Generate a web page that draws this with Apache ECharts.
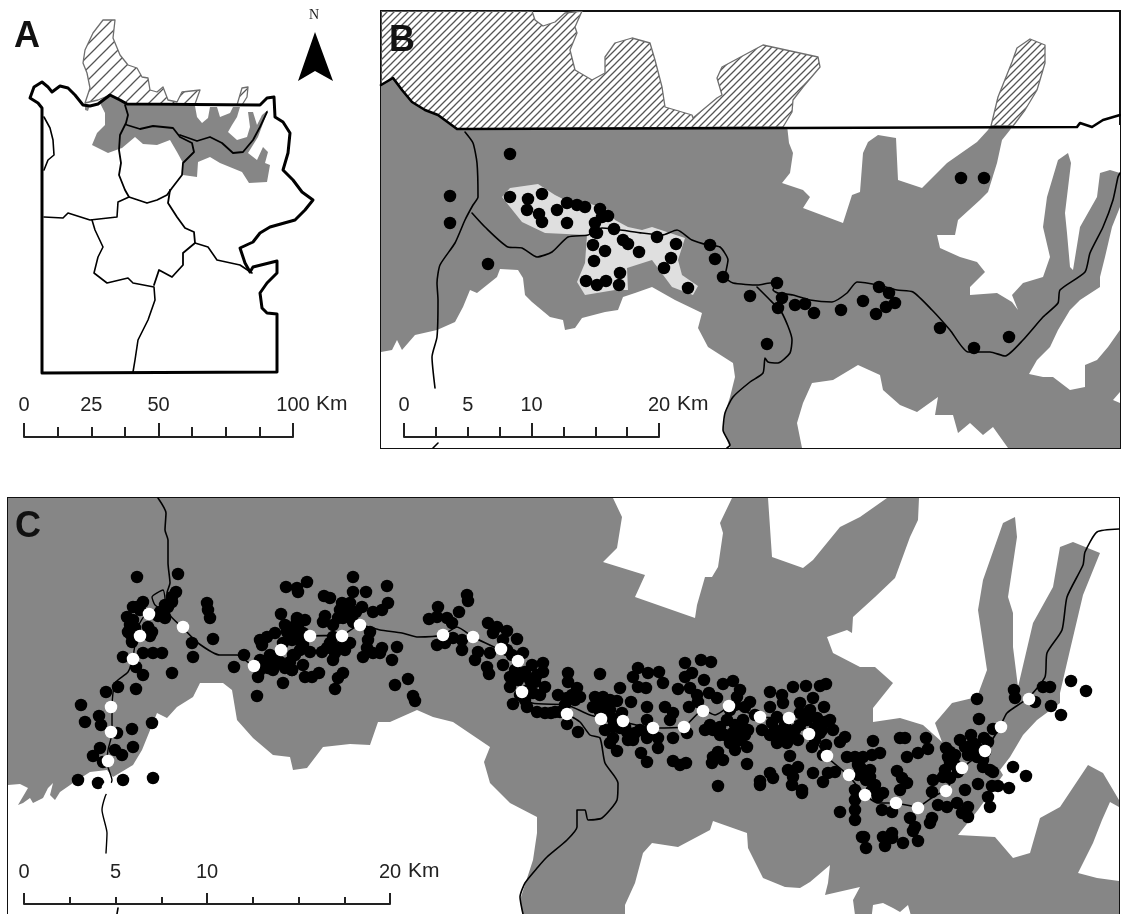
<!DOCTYPE html>
<html><head><meta charset="utf-8">
<style>html,body{margin:0;padding:0;background:#fff}#c{width:1121px;height:914px}</style>
<script src="https://cdn.jsdelivr.net/npm/echarts@6/dist/echarts.min.js"></script>
</head><body><div id="c"></div>
<script>
// ---- Panel A map data (map units) ----
const aOutline=[[42,373],[42,108],[38,103],[30,98],[34,87],[42,82],[48,87],[52,92],[60,86],[68,88],[75,95],[83,105],[90,106],[98,104],[110,95],[120,100],[127,104],[260,105],[267,98],[274,97],[275,117],[283,122],[290,133],[288,153],[283,170],[293,180],[302,192],[313,200],[305,210],[295,220],[270,227],[260,233],[253,242],[240,248],[245,263],[250,272],[253,267],[277,261],[277,273],[267,283],[260,293],[262,308],[267,313],[277,314],[277,372],[42,373]];
const aWest=[[44,117],[50,128],[53,140],[54,155],[48,160],[44,170]];
const aCentral=[[125,105],[128,115],[126,123],[120,135],[119,150],[121,163],[119,175],[125,190],[129,197],[147,203],[157,200],[167,195],[172,188],[182,175],[183,163],[194,152],[192,143],[180,137],[173,128],[153,126],[140,129],[127,125]];
const aRiver=[[180,135],[197,141],[210,137],[222,143],[233,153],[243,152],[253,140],[260,127],[267,112]];
const aEast=[[170,190],[168,203],[177,217],[185,228],[194,232],[195,243],[183,253],[183,265],[172,277],[159,270],[154,285]];
const aMid=[[129,197],[118,202],[117,217],[90,220],[68,213],[63,218],[44,217]];
const aSouth=[[92,220],[95,230],[103,247],[98,257],[94,273],[107,283],[128,278],[133,283],[154,287],[155,300],[148,320],[138,340],[135,360],[133,372]];
const aSE=[[195,243],[208,247],[217,260],[240,265],[252,273]];
const aGrey=[[100,103],[110,95],[127,105],[195,106],[197,117],[202,123],[208,118],[210,107],[217,107],[220,117],[230,113],[233,107],[240,107],[237,117],[232,125],[228,132],[237,140],[247,137],[250,127],[248,112],[253,112],[257,125],[262,115],[268,110],[258,137],[248,153],[257,160],[263,147],[268,152],[265,163],[270,165],[267,182],[249,183],[242,172],[220,163],[210,157],[198,162],[197,177],[183,175],[183,163],[177,152],[170,140],[157,145],[143,144],[135,137],[122,148],[119,149],[108,153],[92,145],[97,133],[105,125],[105,113]];
const aGreyBit=[[85,105],[90,105],[88,111],[85,110]];
const aHatch=[[85,103],[90,88],[87,73],[83,63],[85,50],[93,33],[103,20],[115,20],[113,38],[120,55],[128,65],[137,68],[142,77],[148,78],[150,90],[157,92],[163,87],[168,100],[177,102],[182,92],[200,90],[195,104],[127,104],[110,95],[98,100]];
const aHatchLobe=[[237,105],[242,88],[248,87],[247,97],[242,105]];
const northArrow=[[315,32],[298,81],[315,71],[333,81]];
// ---- Panel B map data ----
const bGrey=[[381,85],[393,78],[402,90],[412,102],[425,110],[438,115],[457,129],[1120,127],[1120,448],[381,448]];
const bWhiteNorth=[[787,125],[789,143],[793,153],[790,173],[782,183],[803,190],[810,197],[803,208],[843,223],[852,195],[860,192],[863,153],[868,142],[878,135],[896,138],[898,180],[922,188],[947,163],[977,142],[988,130],[991,125],[1013,125],[1010,130],[1002,140],[997,163],[988,192],[980,200],[958,220],[955,235],[937,235],[940,248],[960,257],[977,262],[985,272],[970,287],[970,295],[997,293],[1012,302],[1018,310],[1012,295],[1023,283],[1043,277],[1050,257],[1043,227],[1047,197],[1058,160],[1068,153],[1071,163],[1065,213],[1067,233],[1070,267],[1073,270],[1080,227],[1097,197],[1100,173],[1110,170],[1120,173],[1120,125]];
const bWhiteEast=[[1120,207],[1112,227],[1105,257],[1100,277],[1100,287],[1080,300],[1070,310],[1058,330],[1050,347],[1037,360],[1029,374],[1043,377],[1053,377],[1070,390],[1085,387],[1085,365],[1097,360],[1108,347],[1120,330]];
const bWhiteCorner=[[1113,400],[1120,392],[1120,403]];
const bWhiteSouth=[[802,448],[797,423],[803,403],[812,383],[833,380],[858,365],[880,375],[883,390],[900,405],[917,412],[938,397],[935,415],[953,415],[958,433],[970,423],[983,435],[993,427],[1008,448]];
const bWhiteWest=[[381,352],[392,350],[397,340],[402,350],[415,335],[437,330],[455,322],[463,307],[470,290],[477,293],[497,277],[500,269],[518,270],[523,278],[525,295],[532,302],[550,317],[563,320],[565,330],[575,328],[582,318],[605,312],[618,310],[623,297],[635,293],[652,287],[675,300],[702,313],[698,328],[708,347],[733,363],[735,377],[730,397],[725,413],[723,430],[730,448],[381,448]];
const bLight=[[502,197],[510,188],[538,184],[555,195],[565,200],[588,203],[608,210],[615,220],[628,227],[642,230],[652,227],[670,233],[685,238],[678,260],[682,275],[698,286],[693,295],[672,287],[652,260],[627,268],[628,290],[615,290],[585,295],[577,282],[585,263],[587,235],[545,233],[522,222]];
const bHatch=[[381,11],[532,11],[535,20],[543,26],[555,22],[565,13],[582,11],[575,27],[577,33],[570,50],[575,70],[592,80],[605,73],[605,57],[615,43],[632,38],[650,43],[655,60],[662,87],[665,107],[692,115],[693,118],[717,98],[722,95],[717,78],[722,67],[763,45],[818,57],[820,67],[803,87],[793,100],[792,112],[783,127],[457,129],[438,115],[425,110],[412,102],[402,90],[393,78],[381,85]];
const bHatchLobe=[[991,126],[998,97],[1012,62],[1017,48],[1030,39],[1045,45],[1045,63],[1037,90],[1025,110],[1013,126]];
const bBorder=[[381,85],[393,78],[402,90],[412,102],[425,110],[438,115],[457,129],[787,128],[1077,127],[1080,123],[1092,127],[1103,120],[1120,115]];
const bRiverNorth=[[465,132],[473,143],[477,163],[478,197],[473,205],[465,220],[455,243],[440,265],[437,283],[438,300],[437,337],[432,357],[435,388]];
const bRiverMain=[[472,213],[485,227],[508,247],[522,248],[537,257],[552,252],[568,237],[588,235],[602,228],[642,233],[662,235],[677,230],[692,240],[708,245],[720,247],[728,260],[725,277],[733,283],[758,285],[770,283],[777,283],[773,290],[778,293],[793,295],[810,300],[832,302],[847,293],[857,282],[878,285],[897,290],[913,292],[932,310],[950,330],[968,352],[990,352],[1005,356],[1023,340],[1043,317],[1058,303],[1060,290],[1085,272],[1090,253],[1103,227],[1113,200],[1118,177],[1120,173]];
const bRiverSouth=[[757,287],[770,300],[782,313],[792,340],[790,353],[778,363],[768,362],[765,358],[763,373],[750,382],[733,397],[725,413],[723,430],[730,445],[727,448]];
const bRiverStub=[[433,448],[438,443]];
const bDots=[[510,154],[450,196],[450,223],[488,264],[510,197],[528,199],[542,194],[527,210],[539,214],[542,222],[557,210],[567,203],[577,205],[585,207],[567,223],[600,209],[608,216],[602,217],[595,223],[595,232],[597,233],[614,229],[623,240],[628,244],[593,245],[605,251],[594,261],[639,252],[657,237],[676,244],[671,258],[664,268],[688,288],[620,273],[619,285],[606,281],[597,285],[586,281],[710,245],[715,259],[723,277],[750,296],[777,283],[782,298],[778,308],[795,305],[805,304],[814,313],[841,310],[863,301],[879,287],[889,293],[895,303],[886,307],[876,314],[940,328],[974,348],[1009,337],[961,178],[984,178],[767,344]];
// ---- Panel C map data ----
const cGrey=[[8,498],[1119,498],[1119,930],[8,930]];
const cWhiteWest=[[8,785],[20,784],[28,788],[18,805],[23,803],[30,798],[33,803],[43,798],[48,788],[53,783],[50,795],[55,800],[60,792],[73,783],[90,772],[107,770],[113,777],[133,765],[142,750],[157,713],[167,718],[177,707],[193,697],[200,683],[223,683],[232,690],[237,720],[253,738],[273,755],[290,757],[293,770],[307,768],[323,747],[350,744],[370,745],[378,722],[390,722],[417,710],[433,717],[453,722],[490,747],[484,762],[490,783],[510,803],[537,817],[537,833],[533,860],[520,900],[525,930],[8,930]];
const cWhiteNorthA=[[613,498],[622,517],[617,548],[603,562],[645,575],[635,597],[695,618],[697,605],[705,577],[712,577],[718,567],[723,533],[720,523],[732,498]];
const cWhiteNorthB=[[768,498],[772,557],[803,568],[813,560],[840,527],[860,517],[887,498]];
const cWhiteEast=[[919,498],[918,520],[910,537],[895,578],[875,597],[853,617],[852,633],[847,630],[827,637],[833,653],[860,667],[875,667],[893,683],[873,708],[873,722],[900,718],[923,725],[942,742],[935,723],[952,703],[977,697],[987,670],[978,610],[983,580],[1003,523],[1015,517],[1017,537],[1008,597],[1013,613],[1013,647],[1018,687],[1033,623],[1053,587],[1060,547],[1073,542],[1100,553],[1083,595],[1070,650],[1060,693],[1060,703],[1037,720],[1023,735],[1010,757],[1000,770],[1003,775],[978,810],[958,835],[995,837],[1013,858],[1030,853],[1040,818],[1060,807],[1088,765],[1103,773],[1119,800],[1119,498]];
const cWhiteCorner=[[1119,807],[1110,802],[1102,820],[1093,843],[1078,873],[1097,878],[1119,881]];
const cWhiteSouth=[[625,930],[625,905],[635,883],[643,853],[652,843],[678,847],[710,830],[713,821],[747,833],[748,848],[763,878],[785,887],[800,888],[810,882],[830,865],[828,883],[825,895],[860,887],[853,900],[857,930]];
const cWhiteSouthB=[[870,930],[873,905],[883,903],[893,908],[900,912],[908,905],[915,930]];
const cRiverMain=[[158,498],[166,513],[165,530],[168,540],[168,563],[170,583],[167,593],[170,615],[183,628],[198,643],[220,655],[237,655],[253,665],[280,648],[290,640],[310,636],[342,635],[360,625],[380,630],[402,633],[417,637],[443,635],[457,627],[473,637],[500,650],[518,662],[522,692],[532,703],[567,705],[590,715],[623,722],[653,728],[683,727],[703,710],[715,715],[730,707],[760,717],[788,718],[810,733],[827,757],[848,775],[865,795],[878,803],[895,803],[917,807],[933,797],[945,790],[962,768],[985,750],[1000,727],[1007,713],[1028,698],[1045,677],[1047,653],[1062,630],[1067,597],[1083,565],[1085,552],[1097,532],[1119,529]];
const cRiverBranch=[[567,714],[580,722],[590,735],[600,738],[605,763],[618,783],[617,800],[602,818],[588,820],[585,810],[577,810],[577,827],[567,840],[547,857],[538,867],[525,883],[520,897],[523,914]];
const cRiverWest=[[170,615],[155,605],[152,597],[163,590],[166,610],[147,613],[138,627],[133,657],[128,672],[115,683],[112,707],[112,733],[108,750],[107,763],[112,780],[105,797],[102,810],[107,833],[106,853]];
const cRiverStub=[[118,908],[117,914]];
const cBlackDots=[[137,577],[178,574],[176,592],[172,602],[168,607],[163,615],[143,602],[137,607],[127,617],[128,632],[132,642],[133,620],[152,632],[207,603],[208,610],[210,618],[213,639],[192,643],[193,657],[172,673],[143,675],[136,667],[123,657],[143,653],[153,653],[162,653],[118,687],[136,689],[106,692],[81,705],[85,722],[99,716],[101,725],[132,729],[117,733],[152,723],[133,747],[100,748],[93,756],[103,762],[115,750],[122,755],[78,780],[98,783],[123,780],[153,778],
[133,607],[140,610],[130,625],[135,628],[131,635],[148,627],[150,636],[160,612],[165,605],[172,597],[165,618],[158,616],
[286,587],[297,588],[281,614],[244,655],[234,667],[258,677],[257,696],[283,683],[260,640],[267,637],[275,633],[262,645],[293,627],[297,618],[260,660],[273,663],[273,670],[267,660],[293,655],[292,670],[283,643],
[270,655],[275,658],[280,662],[285,668],[268,668],[290,662],[300,640],[303,645],[260,670],[287,632],[292,640],[285,625],
[307,582],[298,592],[353,577],[353,592],[366,592],[387,586],[324,596],[330,598],[342,603],[350,603],[340,610],[348,612],[362,607],[373,612],[382,610],[388,603],[325,616],[323,622],[333,625],[343,618],[353,622],[297,620],[305,620],[298,627],[303,633],[295,633],[370,632],[368,640],[367,648],[363,657],[373,653],[382,648],[397,647],[392,660],[380,653],[333,637],[330,643],[335,653],[350,643],[322,652],[310,652],[295,655],[303,665],[292,670],[305,677],[312,677],[319,673],[343,673],[338,678],[335,689],[395,685],[408,679],[413,696],[415,701],
[345,605],[345,615],[338,618],[350,616],[356,612],[300,650],[340,647],[345,650],[327,648],[333,660],
[438,607],[429,619],[437,617],[447,618],[452,623],[459,612],[467,595],[468,601],[437,645],[445,643],[453,638],[462,640],[462,650],[475,660],[478,652],[488,623],[497,627],[507,631],[493,633],[517,639],[503,640],[487,667],[489,674],[490,653],[503,665],[510,677],[510,687],[523,653],[532,665],[543,663],[543,672],[535,682],[545,687],[533,693],[513,704],[527,707],[537,712],[545,713],[555,712],[568,673],[568,682],[558,695],[577,688],[580,697],[567,698],[567,724],[578,732],
[507,650],[512,655],[515,670],[518,680],[525,672],[530,680],[528,690],[537,675],[540,695],[525,700],[520,695],[551,713],[560,712],[565,705],[572,695],[575,700],
[600,674],[620,688],[638,668],[633,677],[648,673],[659,672],[663,683],[638,687],[646,688],[685,663],[701,660],[711,662],[692,673],[685,677],[704,680],[678,689],[690,688],[697,695],[709,693],[723,684],[733,681],[740,690],[737,697],[750,702],[595,697],[603,697],[617,701],[631,702],[593,707],[603,707],[622,713],[647,707],[665,707],[673,713],[647,720],[670,720],[689,707],[698,702],[717,698],[745,707],[743,720],[613,727],[627,732],[635,733],[613,738],[610,743],[617,751],[628,740],[633,740],[647,738],[658,738],[658,748],[641,753],[647,762],[673,738],[687,733],[705,730],[713,730],[720,727],[727,720],[733,733],[743,728],[730,743],[740,740],[747,747],[747,764],[718,752],[713,757],[723,760],[712,763],[718,786],[673,761],[680,765],[686,763],
[730,710],[735,705],[725,735],[735,725],[745,735],[720,735],[710,725],[755,715],[735,750],[598,702],[610,700],[600,712],[610,710],[612,718],[615,722],[620,728],[605,730],[640,730],[650,730],[625,727],
[770,692],[793,687],[806,686],[820,686],[826,684],[782,695],[783,703],[770,707],[813,698],[800,703],[824,707],[777,717],[748,730],[762,730],[772,723],[782,733],[777,743],[787,743],[800,713],[807,720],[817,718],[825,722],[833,730],[845,737],[840,742],[798,740],[820,733],[812,747],[823,755],[790,756],[798,767],[788,770],[793,777],[792,785],[802,790],[802,793],[813,773],[770,773],[773,778],[760,781],[760,785],[823,782],[828,773],[835,772],[847,757],[855,757],[840,812],[855,790],[855,800],[855,810],[855,820],[862,837],
[775,730],[785,725],[790,735],[795,730],[780,740],[770,735],[800,725],[810,710],[815,728],[822,730],[830,720],[826,745],[815,740],
[873,741],[900,738],[905,738],[926,738],[928,749],[918,753],[907,757],[880,753],[872,755],[863,757],[860,767],[870,770],[870,777],[875,785],[883,793],[878,797],[897,771],[902,778],[907,783],[900,790],[882,810],[892,812],[910,818],[915,827],[913,831],[918,841],[903,843],[892,833],[892,838],[883,837],[885,846],[864,837],[866,848],[932,818],[930,823],[932,792],[933,780],[965,790],[978,784],[992,786],[998,786],[1009,788],[1013,767],[1026,776],[988,797],[990,807],[938,805],[947,807],[957,803],[968,807],[962,813],[968,817],[946,748],[950,752],[953,757],[950,763],[945,770],[943,777],[950,778],[960,740],[965,747],[971,735],[973,743],[968,755],[977,757],[984,738],[988,742],[993,729],[983,767],[993,772],[977,699],[979,719],[1014,690],[1015,698],[1035,702],[1043,687],[1050,687],[1051,706],[1061,715],[1071,681],[1086,691],
[858,775],[862,770],[866,780],[872,790],[858,765],[955,765],[948,757],[958,772],[955,755],[975,745],[980,750],[970,752],[985,752],[983,760],[990,770]];
const cWhiteDots=[[149,614],[140,636],[133,659],[111,707],[111,732],[108,761],[108,788],[183,627],[254,666],[281,650],[310,636],[342,636],[360,625],[443,635],[473,637],[501,649],[518,661],[522,692],[567,714],[601,719],[623,721],[653,728],[684,727],[703,711],[729,706],[760,717],[789,718],[809,734],[827,756],[849,775],[865,795],[896,803],[918,808],[946,791],[962,768],[985,751],[1001,727],[1029,699]];
// ---- Scale bars ----
const scaleALabels=[0,25,50,100];
const scaleBLabels=[0,5,10,20];
const scaleCLabels=[0,5,10,20];

const FONT='"Liberation Sans",Arial,sans-serif';
const GREY='#868686', LIGHT='#dfdfdf', HATCHLINE='#6e6e6e';
function hatchTile(d,w,col){
  const c=document.createElement('canvas');c.width=d;c.height=d;
  const g=c.getContext('2d');g.strokeStyle=col;g.lineWidth=w;
  g.beginPath();
  g.moveTo(-d,2*d);g.lineTo(2*d,-d);
  g.moveTo(-d,d);g.lineTo(d,-d);
  g.moveTo(0,2*d);g.lineTo(2*d,0);
  g.stroke();return c;
}
const hatchA={image:hatchTile(12,1.3,'#555'),repeat:'repeat'};
const hatchB={image:hatchTile(7,1.3,'#555'),repeat:'repeat'};
let zc=1;
function poly(ax,pts,fill,stroke,sw){
  return {type:'custom',xAxisIndex:ax,yAxisIndex:ax,coordinateSystem:'cartesian2d',clip:true,silent:true,z:zc++,
    data:pts,encode:{x:0,y:1},
    renderItem:function(p,api){
      if(p.dataIndex!==0) return null;
      return {type:'polygon',shape:{points:pts.map(q=>api.coord(q))},
        style:{fill:fill,stroke:stroke||null,lineWidth:sw||0,lineJoin:'round'}};
    }};
}
function path(ax,pts,w,smooth){
  return {type:'line',xAxisIndex:ax,yAxisIndex:ax,data:pts,symbol:'none',silent:true,z:zc++,clip:true,smooth:smooth||false,
    lineStyle:{color:'#000',width:w,join:'round',cap:'round'},itemStyle:{color:'#000'}};
}
function dots(ax,pts,color,size){
  return {type:'scatter',xAxisIndex:ax,yAxisIndex:ax,data:pts,symbol:'circle',symbolSize:size,silent:true,z:zc++,
    clip:true,large:false,itemStyle:{color:color,opacity:1}};
}
const series=[
 // A
 poly(0,aGrey,GREY),poly(0,aGreyBit,GREY),
 poly(0,aHatch,hatchA,HATCHLINE,1.3),poly(0,aHatchLobe,hatchA,HATCHLINE,1.3),
 path(0,aWest,1.6),path(0,aCentral,1.8),path(0,aRiver,1.8),path(0,aEast,1.8),path(0,aMid,1.6),path(0,aSouth,1.6),path(0,aSE,1.6),
 path(0,aOutline,3),
 poly(0,northArrow,'#000'),
 // B
 poly(1,bGrey,GREY),poly(1,bWhiteNorth,'#fff'),poly(1,bWhiteEast,'#fff'),poly(1,bWhiteCorner,'#fff'),poly(1,bWhiteSouth,'#fff'),poly(1,bWhiteWest,'#fff'),
 poly(1,bLight,LIGHT),
 poly(1,bHatch,hatchB,HATCHLINE,1.3),poly(1,bHatchLobe,hatchB,HATCHLINE,1.3),
 path(1,bRiverNorth,1.6,0.2),path(1,bRiverMain,1.6,0.2),path(1,bRiverSouth,1.6,0.2),path(1,bRiverStub,1.6),
 path(1,bBorder,2.6),
 dots(1,bDots,'#000',12.5),
 // C
 poly(2,cGrey,GREY),poly(2,cWhiteWest,'#fff'),poly(2,cWhiteNorthA,'#fff'),poly(2,cWhiteNorthB,'#fff'),poly(2,cWhiteEast,'#fff'),poly(2,cWhiteCorner,'#fff'),poly(2,cWhiteSouth,'#fff'),poly(2,cWhiteSouthB,'#fff'),
 path(2,cRiverMain,1.6,0.2),path(2,cRiverBranch,1.6,0.2),path(2,cRiverWest,1.4,0.2),path(2,cRiverStub,1.6),
 dots(2,cBlackDots,'#000',12.5),
 dots(2,cWhiteDots,'#fff',12.5)
];
function mapAxes(x0,x1,y0,y1,i){
  return {x:{type:'value',gridIndex:i,min:x0,max:x1,show:false},y:{type:'value',gridIndex:i,min:y0,max:y1,inverse:true,show:false}};
}
function scaleAxes(i,max,major,labels,tickMaj,tickMin,margin){
  return {x:{type:'value',gridIndex:i,min:0,max:max,interval:major,z:80,
      axisLine:{show:true,onZero:false,lineStyle:{color:'#222',width:2}},
      axisTick:{show:true,inside:true,length:tickMaj,lineStyle:{color:'#222',width:2}},
      minorTick:{show:true,splitNumber:4,length:tickMin,lineStyle:{color:'#222',width:2}},
      splitLine:{show:false},minorSplitLine:{show:false},
      axisLabel:{show:true,inside:true,margin:margin,customValues:labels,color:'#222',fontSize:20,fontFamily:FONT,hideOverlap:false}},
    y:{type:'value',gridIndex:i,min:0,max:1,show:false}};
}
const M=[mapAxes(0,370,0,450,0),mapAxes(381,1120,11,448,1),mapAxes(8,1119,498,930,2),
  scaleAxes(3,100,50,scaleALabels,14,10,22),
  scaleAxes(4,20,10,scaleBLabels,14,10,22),
  scaleAxes(5,20,10,scaleCLabels,11,7,22)];
const letter=(t,x,y)=>({type:'text',left:x,top:y,z:100,style:{text:t,font:'bold 36px '+FONT,fill:'#111'}});
const kmLabel=(x,y)=>({type:'text',left:x,top:y,z:100,style:{text:'Km',font:'21px '+FONT,fill:'#222'}});
const OB={outerBoundsMode:'none'};
const option={
 animation:false,backgroundColor:'#fff',
 grid:[
  {...OB,left:0,top:0,width:370,height:450},
  {...OB,left:381,top:11,width:739,height:437,show:true,borderColor:'#111',borderWidth:2,backgroundColor:'#fff'},
  {...OB,left:8,top:498,width:1111,height:432,show:true,borderColor:'#111',borderWidth:2,backgroundColor:'#fff'},
  {...OB,left:24,top:436,width:269,height:1},
  {...OB,left:404,top:436,width:255,height:1},
  {...OB,left:24,top:903,width:366,height:1}
 ],
 xAxis:M.map(m=>m.x),yAxis:M.map(m=>m.y),series:series,
 graphic:[letter('A',14,19),letter('B',389,23),letter('C',15,509),
  kmLabel(316,394),kmLabel(677,394),kmLabel(408,861),
  {type:'text',left:309,top:8,z:100,style:{text:'N',font:'14px "Liberation Serif",serif',fill:'#222'}}]
};
echarts.init(document.getElementById('c'),null,{renderer:'canvas'}).setOption(option);
</script></body></html>
